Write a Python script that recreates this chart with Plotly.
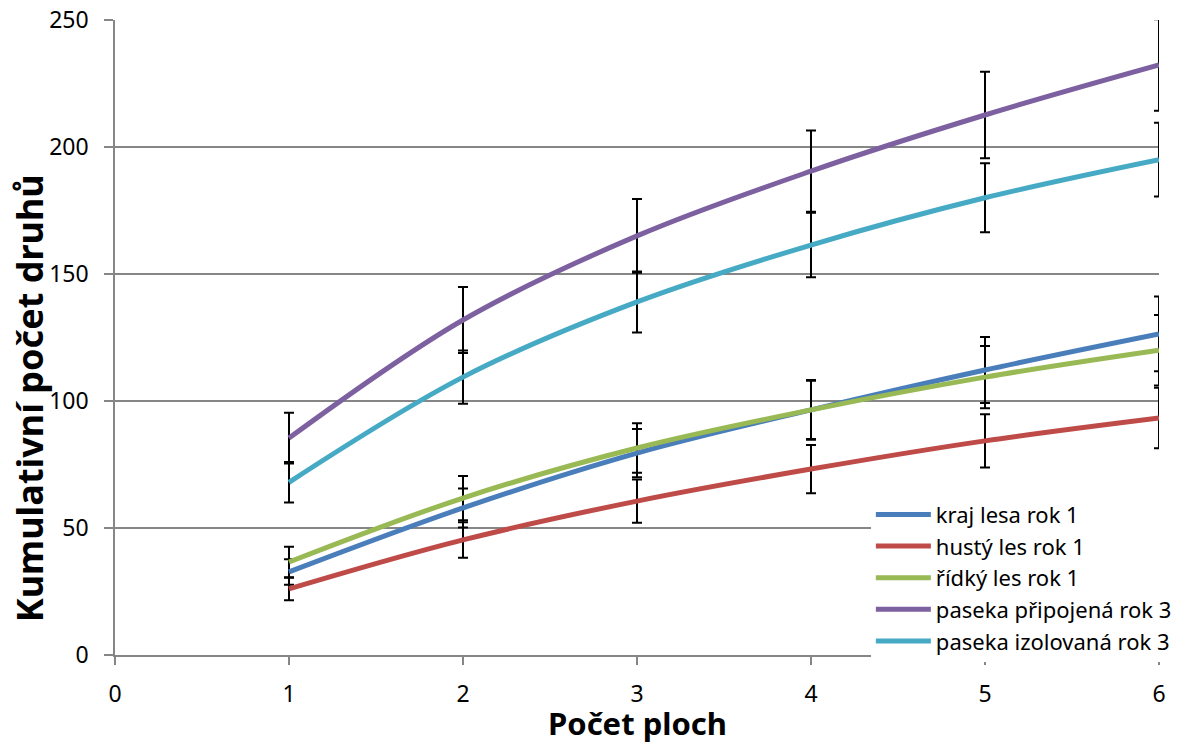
import plotly.graph_objects as go

x_vals = [1, 2, 3, 4, 5, 6]

names = ["kraj lesa rok 1", "hustý les rok 1", "řídký les rok 1",
         "paseka připojená rok 3", "paseka izolovaná rok 3"]

kraj_lesa = [32.7, 57.9, 79.5, 96.5, 112.2, 126.4]
husty_les = [26.0, 45.3, 60.6, 73.2, 84.3, 93.3]
ridky_les = [36.6, 61.8, 81.5, 96.5, 109.4, 120.0]
paseka_prip = [85.4, 131.9, 165.0, 190.5, 212.6, 232.3]
paseka_izol = [68.0, 109.4, 139.0, 161.4, 180.0, 195.0]

err_kraj = [5.0, 7.7, 9.5, 11.5, 13.0, 14.7]
err_husty = [4.4, 7.0, 8.5, 9.5, 10.5, 11.9]
err_ridky = [6.0, 8.7, 9.7, 11.8, 12.3, 13.9]
err_prip = [10.0, 13.0, 14.5, 16.0, 17.0, 18.0]
err_izol = [8.0, 10.5, 12.0, 12.7, 13.6, 14.5]

x_ticks = [0, 1, 2, 3, 4, 5, 6]
y_ticks = [0, 50, 100, 150, 200, 250]

x_title = "Počet ploch"
y_title = "Kumulativní počet druhů"

colors = ["#4A7EBB", "#BE4B48", "#98B954", "#7D60A0", "#46AAC5"]

series = [kraj_lesa, husty_les, ridky_les, paseka_prip, paseka_izol]
errors = [err_kraj, err_husty, err_ridky, err_prip, err_izol]

FONT = "Noto Sans"

fig = go.Figure()

# error bars first (drawn beneath lines)
for ys, es in zip(series, errors):
    fig.add_trace(go.Scatter(
        x=x_vals, y=ys, mode="markers",
        marker=dict(size=1, color="rgba(0,0,0,0)"),
        error_y=dict(type="data", array=es, visible=True,
                     color="black", thickness=2, width=5),
        showlegend=False, hoverinfo="skip"))

for nm, ys, col in zip(names, series, colors):
    fig.add_trace(go.Scatter(
        x=x_vals, y=ys, mode="lines", name=nm,
        line=dict(color=col, width=5, shape="spline", smoothing=1.0)))

fig.update_layout(
    width=1186, height=745,
    margin=dict(l=115, r=27, t=20, b=90, autoexpand=False),
    paper_bgcolor="white", plot_bgcolor="white",
    font=dict(family=FONT, color="black"),
    showlegend=True,
    legend=dict(
        x=0.724, y=0.254, xanchor="left", yanchor="top",
        bgcolor="white", borderwidth=0,
        font=dict(family=FONT, size=22, color="black"),
        traceorder="normal", itemwidth=55),
    xaxis=dict(
        range=[0, 6], tickmode="array", tickvals=x_ticks,
        automargin=False,
        showgrid=False, zeroline=False,
        showline=True, linecolor="#868686", linewidth=1.5,
        ticks="outside", ticklen=8, tickcolor="#868686", tickwidth=1.5,
        ticklabelstandoff=10,
        tickfont=dict(family=FONT, size=23, color="black")),
    yaxis=dict(
        range=[0, 250], tickmode="array", tickvals=y_ticks,
        automargin=False,
        showgrid=True, gridcolor="#868686", gridwidth=1.5,
        zeroline=False,
        showline=True, linecolor="#868686", linewidth=1.5,
        ticks="outside", ticklen=9, tickcolor="#868686", tickwidth=1.5,
        ticklabelstandoff=11,
        tickfont=dict(family=FONT, size=23, color="black")),
    annotations=[
        dict(text=f"<b>{x_title}</b>", xref="paper", yref="paper",
             x=0.5, y=-0.107, xanchor="center", yanchor="middle",
             showarrow=False, font=dict(family=FONT, size=31, color="black")),
        dict(text=f"<b>{y_title}</b>", xref="paper", yref="paper",
             x=-0.082, y=0.405, xanchor="center", yanchor="middle",
             textangle=-90, showarrow=False,
             font=dict(family=FONT, size=36, color="black")),
    ],
)

fig.write_html("out.html")
